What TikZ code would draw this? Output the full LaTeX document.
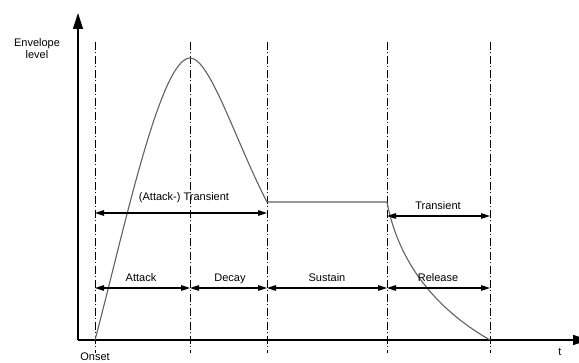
\documentclass[tikz,border=0pt]{standalone}
\usepackage{fontspec}
\setmainfont{Liberation Sans}
\usetikzlibrary{arrows.meta}
\begin{document}
\begin{tikzpicture}[x=1pt,y=-1pt,
  axis/.style={line width=1.3pt,-{Triangle[length=16pt,width=10pt]}},
  guide/.style={line width=0.8pt,dash pattern=on 8pt off 2.5pt on 1pt off 2.5pt},
  env/.style={line width=1.1pt,draw=black!62},
  span/.style={line width=1.1pt,{Triangle[length=9pt,width=5.5pt]}-{Triangle[length=9pt,width=5.5pt]}},
  lbl/.style={font=\fontsize{11}{13}\selectfont,anchor=base,inner sep=0pt}]
\useasboundingbox (0,0) rectangle (579,363);
% key coordinates
\coordinate (O) at (78,340);
\coordinate (ytop) at (78,13);
\coordinate (xend) at (589,340);
\coordinate (p0) at (95,340);
\coordinate (p1) at (190,58);
\coordinate (p2) at (267,202);
\coordinate (p3) at (387,202);
\coordinate (p4) at (490,340);
% guide lines
\foreach \n/\x in {g0/95,g1/190,g2/267,g3/387,g4/490}{
  \coordinate (\n t) at (\x,42);
  \coordinate (\n b) at (\x,353);
  \draw[guide] (\n t) -- (\n b);
}
% axes
\draw[axis] (O) -- (ytop);
\draw[axis] (O) -- (xend);
% envelope
\draw[env] (p0) .. controls (123,235) and (160,58) .. (p1)
  .. controls (210,58) and (235,140) .. (p2) -- (p3)
  .. controls (400,270) and (443,313) .. (p4);
% spans
\coordinate (a0) at (95,213); \coordinate (a2) at (267,213);
\draw[span] (a0) -- (a2);
\coordinate (r3) at (387,216); \coordinate (r4) at (490,216);
\draw[span] (r3) -- (r4);
\coordinate (b0) at (95,288); \coordinate (b1) at (190,288);
\coordinate (b2) at (267,288); \coordinate (b3) at (387,288);
\coordinate (b4) at (490,288);
\draw[span] (b0) -- (b1);
\draw[span] (b1) -- (b2);
\draw[span] (b2) -- (b3);
\draw[span] (b3) -- (b4);
% labels
\node[lbl] (tatk) at (184,201) {(Attack-) Transient};
\node[lbl] (trel) at (438,210) {Transient};
\node[lbl] (latk) at (141,282) {Attack};
\node[lbl] (ldec) at (230,282) {Decay};
\node[lbl] (lsus) at (327,282) {Sustain};
\node[lbl] (lrel) at (438,282) {Release};
\node[lbl] (yl1) at (37,47) {Envelope};
\node[lbl] (yl2) at (37,59) {level};
\node[lbl] (ons) at (95,361) {Onset};
\node[lbl] (tl) at (560,356) {t};
\end{tikzpicture}
\end{document}
